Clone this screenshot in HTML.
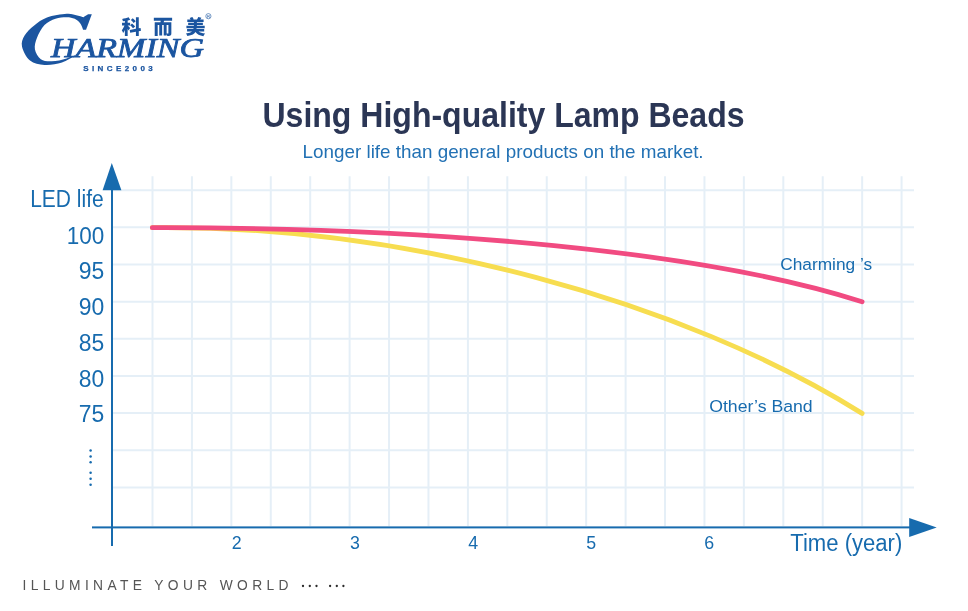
<!DOCTYPE html>
<html><head><meta charset="utf-8"><style>
html,body{margin:0;padding:0;background:#fff;}
body{width:968px;height:611px;overflow:hidden;position:relative;}
svg{position:absolute;left:0;top:0;will-change:transform;}
text{font-family:"Liberation Sans",sans-serif;}
.ser{font-family:"Liberation Serif",serif;}
</style></head><body>
<svg width="968" height="611" viewBox="0 0 968 611">
<g fill="#1b55a0">
<path d="M91.80,14.20 C91.80,14.20 86.20,29.70 86.20,29.70 C86.20,29.70 83.10,29.70 83.10,29.70 C83.10,29.70 81.70,25.32 80.30,23.50 C78.90,21.68 76.97,19.85 74.70,18.80 C72.43,17.75 69.90,17.22 66.70,17.20 C63.50,17.18 59.20,17.40 55.50,18.70 C51.80,20.00 47.57,21.87 44.50,25.00 C41.43,28.13 38.70,33.45 37.10,37.50 C35.50,41.55 34.28,45.68 34.90,49.30 C35.52,52.92 37.98,57.20 40.80,59.20 C43.62,61.20 47.50,61.43 51.80,61.30 C56.10,61.17 62.15,59.68 66.60,58.40 C71.05,57.12 78.50,53.60 78.50,53.60 C78.50,53.60 67.67,60.70 62.00,62.60 C56.33,64.50 49.83,65.35 44.50,65.00 C39.17,64.65 33.75,63.60 30.00,60.50 C26.25,57.40 22.90,50.57 22.00,46.40 C21.10,42.23 22.57,38.98 24.60,35.50 C26.63,32.02 30.47,28.50 34.20,25.50 C37.93,22.50 41.58,19.45 47.00,17.50 C52.42,15.55 61.67,14.13 66.70,13.80 C71.73,13.47 74.42,14.92 77.20,15.50 C79.98,16.08 83.40,17.30 83.40,17.30 C83.40,17.30 88.00,14.20 88.00,14.20 C88.00,14.20 91.80,14.20 91.80,14.20 Z"/>
<text class="ser" x="51" y="56.8" font-style="italic" font-size="26.5" textLength="153" lengthAdjust="spacingAndGlyphs" stroke="#1b55a0" stroke-width="0.75">HARMING</text>
<path transform="translate(121.5,34.2) scale(0.0199)" d="M469 -719C522 -673 586 -606 612 -562L714 -652C684 -696 616 -758 564 -800ZM434 -454C488 -408 555 -341 584 -296L684 -389C652 -433 581 -495 527 -537ZM358 -849C271 -814 148 -783 33 -766C48 -735 66 -686 71 -654L169 -667V-574H27V-439H150C116 -352 67 -257 15 -196C37 -159 68 -98 81 -56C113 -98 142 -153 169 -214V95H310V-275C327 -245 342 -215 352 -192L435 -306C416 -328 336 -413 310 -436V-439H433V-574H310V-694C354 -704 397 -716 437 -730ZM413 -214 436 -75 725 -128V94H868V-154L980 -174L958 -311L868 -295V-856H725V-270Z"/>
<path transform="translate(153.0,34.2) scale(0.0199)" d="M42 -827V-679H392C386 -651 379 -622 372 -595H86V95H236V-460H314V66H459V-460H539V66H684V-7C698 25 711 66 716 95C781 95 831 92 871 71C911 49 922 14 922 -49V-595H533C543 -621 554 -650 564 -679H961V-827ZM684 -460H774V-51C774 -38 769 -34 756 -34H684Z"/>
<path transform="translate(185.5,34.2) scale(0.0199)" d="M642 -864C627 -826 602 -778 578 -741H383L409 -752C397 -785 369 -831 340 -864L210 -814C226 -793 242 -766 254 -741H90V-614H423V-581H134V-460H423V-425H46V-299H402L397 -262H79V-133H332C281 -88 190 -58 22 -37C50 -5 84 55 95 94C336 55 448 -11 503 -107C583 14 698 74 900 97C918 56 956 -6 987 -38C832 -46 726 -75 656 -133H939V-262H551L556 -299H965V-425H573V-460H873V-581H573V-614H910V-741H741C760 -766 780 -796 800 -827Z"/>
<text x="83.2" y="70.9" font-weight="bold" font-size="8" textLength="69.6" lengthAdjust="spacing" stroke="#1b55a0" stroke-width="0.25">SINCE2003</text>
<circle cx="208.4" cy="16.2" r="2.6" fill="none" stroke="#1b55a0" stroke-width="0.6"/>
<text x="206.9" y="17.9" font-size="4.2">R</text>
</g>
<text x="262.5" y="126.9" fill="#2b3655" font-weight="bold" font-size="34.6" textLength="482" lengthAdjust="spacingAndGlyphs">Using High-quality Lamp Beads</text>
<text x="302.6" y="158.4" fill="#2271b4" font-size="19" textLength="401" lengthAdjust="spacingAndGlyphs">Longer life than general products on the market.</text>
<g stroke="#e5eff7" stroke-width="2">
<line x1="152.50" y1="176.2" x2="152.50" y2="526" />
<line x1="191.93" y1="176.2" x2="191.93" y2="526" />
<line x1="231.35" y1="176.2" x2="231.35" y2="526" />
<line x1="270.77" y1="176.2" x2="270.77" y2="526" />
<line x1="310.20" y1="176.2" x2="310.20" y2="526" />
<line x1="349.62" y1="176.2" x2="349.62" y2="526" />
<line x1="389.05" y1="176.2" x2="389.05" y2="526" />
<line x1="428.47" y1="176.2" x2="428.47" y2="526" />
<line x1="467.90" y1="176.2" x2="467.90" y2="526" />
<line x1="507.32" y1="176.2" x2="507.32" y2="526" />
<line x1="546.75" y1="176.2" x2="546.75" y2="526" />
<line x1="586.17" y1="176.2" x2="586.17" y2="526" />
<line x1="625.60" y1="176.2" x2="625.60" y2="526" />
<line x1="665.02" y1="176.2" x2="665.02" y2="526" />
<line x1="704.45" y1="176.2" x2="704.45" y2="526" />
<line x1="743.88" y1="176.2" x2="743.88" y2="526" />
<line x1="783.30" y1="176.2" x2="783.30" y2="526" />
<line x1="822.72" y1="176.2" x2="822.72" y2="526" />
<line x1="862.15" y1="176.2" x2="862.15" y2="526" />
<line x1="901.57" y1="176.2" x2="901.57" y2="526" />
<line x1="113" y1="190.20" x2="914" y2="190.20" />
<line x1="113" y1="227.35" x2="914" y2="227.35" />
<line x1="113" y1="264.50" x2="914" y2="264.50" />
<line x1="113" y1="301.65" x2="914" y2="301.65" />
<line x1="113" y1="338.80" x2="914" y2="338.80" />
<line x1="113" y1="375.95" x2="914" y2="375.95" />
<line x1="113" y1="413.10" x2="914" y2="413.10" />
<line x1="113" y1="450.25" x2="914" y2="450.25" />
<line x1="113" y1="487.40" x2="914" y2="487.40" />
</g>
<g fill="#176bae">
<rect x="111" y="186" width="2" height="360"/>
<rect x="92" y="526.4" width="818" height="2"/>
<polygon points="111.8,163 102.6,190.2 121.4,190.2"/>
<polygon points="936.7,527.4 909.2,517.9 909.2,536.9"/>
<text x="30.2" y="206.8" font-size="23" textLength="73.5" lengthAdjust="spacingAndGlyphs">LED life</text>
<g font-size="23.5" text-anchor="end">
<text x="104.3" y="243.7" textLength="37.5" lengthAdjust="spacingAndGlyphs">100</text>
<text x="104.3" y="279.3" textLength="25.5" lengthAdjust="spacingAndGlyphs">95</text>
<text x="104.3" y="315" textLength="25.5" lengthAdjust="spacingAndGlyphs">90</text>
<text x="104.3" y="350.8" textLength="25.5" lengthAdjust="spacingAndGlyphs">85</text>
<text x="104.3" y="386.8" textLength="25.5" lengthAdjust="spacingAndGlyphs">80</text>
<text x="104.3" y="422.2" textLength="25.5" lengthAdjust="spacingAndGlyphs">75</text>
</g>
<circle cx="90.6" cy="450.4" r="1.25"/><circle cx="90.6" cy="456.4" r="1.25"/><circle cx="90.6" cy="462.3" r="1.25"/>
<circle cx="90.6" cy="472.8" r="1.25"/><circle cx="90.6" cy="478.7" r="1.25"/><circle cx="90.6" cy="484.7" r="1.25"/>
<g font-size="17.8" text-anchor="middle">
<text x="236.8" y="548.6">2</text>
<text x="355" y="548.6">3</text>
<text x="473.1" y="548.6">4</text>
<text x="591.3" y="548.6">5</text>
<text x="709.3" y="548.6">6</text>
</g>
<text x="790.3" y="551" font-size="23" textLength="112" lengthAdjust="spacingAndGlyphs">Time (year)</text>
<g font-size="17.6">
<text x="780.2" y="270" font-size="17.2" textLength="92" lengthAdjust="spacingAndGlyphs">Charming ’s</text>
<text x="709.2" y="412.2" font-size="16.8" textLength="103.5" lengthAdjust="spacingAndGlyphs">Other’s Band</text>
</g>
</g>
<g fill="none" stroke-width="4.8" stroke-linecap="round">
<path stroke="#f7dd50" d="M152.3,227.7 C407.26,224.87 683.07,301.07 862.1,413.4"/>
<path stroke="#f14b81" d="M152.3,227.7 C433.96,227.05 705.16,251.37 862.1,301.8"/>
</g>
<text x="22.5" y="589.9" fill="#555" font-size="13.8" textLength="266" lengthAdjust="spacing">ILLUMINATE YOUR WORLD</text>
<g fill="#2a2a2a">
<circle cx="303" cy="586" r="1.15"/><circle cx="309.8" cy="586" r="1.15"/><circle cx="316.5" cy="586" r="1.15"/>
<circle cx="330.1" cy="586" r="1.15"/><circle cx="336.8" cy="586" r="1.15"/><circle cx="343.4" cy="586" r="1.15"/>
</g>
</svg>
</body></html>
